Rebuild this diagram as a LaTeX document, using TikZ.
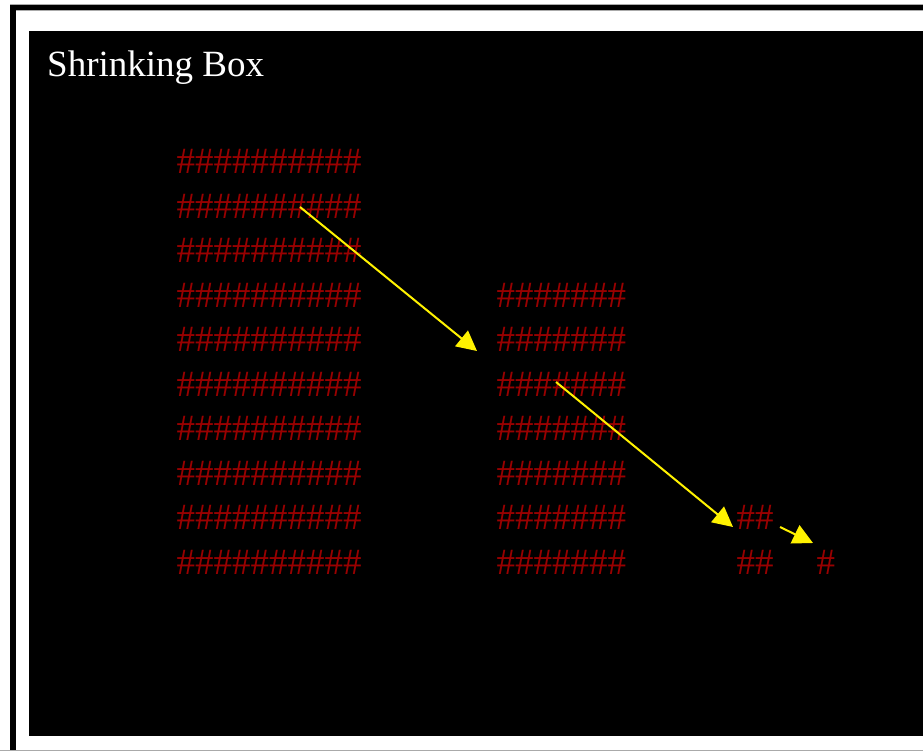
\documentclass[tikz,border=0pt]{standalone}
\usepackage{fontspec}
\setmainfont{Liberation Serif}
\usetikzlibrary{arrows.meta}
\definecolor{hashred}{RGB}{153,0,0}
\definecolor{framegray}{RGB}{170,170,170}
\begin{document}
\begin{tikzpicture}[x=1pt,y=-1pt,
  hashrow/.style={anchor=base west, inner sep=0pt, text=hashred, font=\fontsize{37}{37}\selectfont},
  titletext/.style={anchor=base west, inner sep=0pt, text=white, font=\fontsize{37}{37}\selectfont},
  arr/.style={draw=yellow, line width=2pt, -{Triangle[length=20pt,width=20pt]}}]
\useasboundingbox (0,0) rectangle (923,751);
\fill[white] (0,0) rectangle (923,751);
% outer frame
\draw[framegray, line width=1pt] (10,4.5) -- (923,4.5);
\fill[black] (10,5) rectangle (923,10);
\fill[black] (10,5) rectangle (16,751);
\draw[framegray, line width=1pt] (16,10.5) -- (923,10.5);
\draw[framegray, line width=1pt] (0,750.5) -- (923,750.5);
% black panel
\fill[black] (29,31) rectangle (923,736);
% title
\node[titletext] (title) at (47,77) {Shrinking Box};
% left block
\foreach \k in {0,...,9}
  \node[hashrow] (L\k) at (176.5,{173.5+44.56*\k}) {\#\#\#\#\#\#\#\#\#\#};
% middle block
\foreach \k in {3,...,9}
  \node[hashrow] (M\k) at (496.5,{173.5+44.56*\k}) {\#\#\#\#\#\#\#};
% right block
\node[hashrow] (R8) at (736.5,{173.5+44.56*8}) {\#\#};
\node[hashrow] (R9) at (736.5,{173.5+44.56*9}) {\#\#};
\node[hashrow] (S9) at (816.5,{173.5+44.56*9}) {\#};
% arrows
\coordinate (a1s) at (300,207);
\coordinate (a1e) at (477,351);
\coordinate (a2s) at (556,382);
\coordinate (a2e) at (733,527);
\coordinate (a3s) at (780,527);
\coordinate (a3e) at (813,543);
\draw[arr] (a1s) -- (a1e);
\draw[arr] (a2s) -- (a2e);
\draw[arr] (a3s) -- (a3e);
\end{tikzpicture}
\end{document}
